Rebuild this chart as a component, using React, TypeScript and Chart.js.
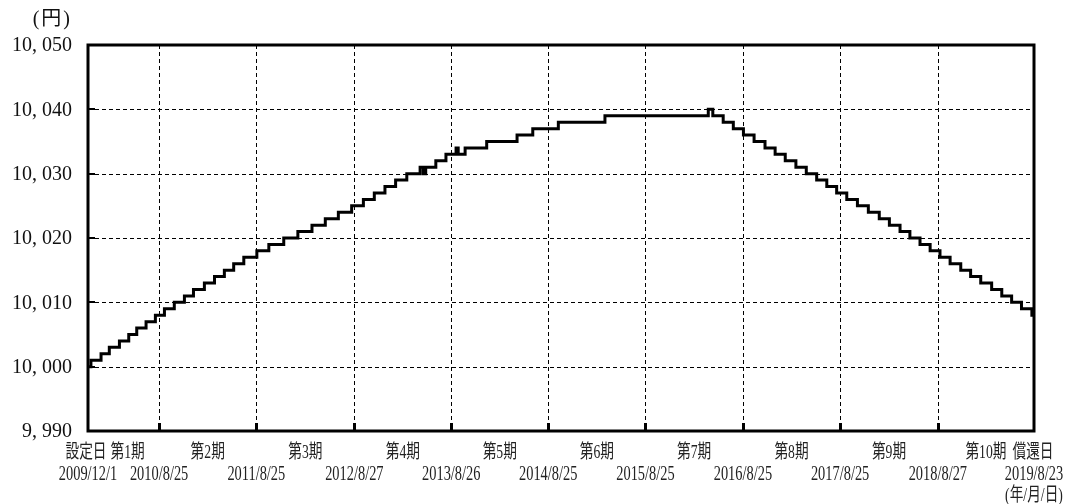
import React, { useEffect, useRef } from "react";
import { Chart, registerables } from "chart.js";

Chart.register(...registerables);

// NAV step series: date from which the value applies, and the value (円)
const navDates = [
  "2009/12/1", "2009/12/12", "2010/1/19", "2010/2/19", "2010/3/29", "2010/5/3",
  "2010/6/2", "2010/7/7", "2010/8/11", "2010/9/14", "2010/10/21", "2010/11/28",
  "2011/1/1", "2011/2/11", "2011/3/21", "2011/4/27", "2011/6/1", "2011/7/9",
  "2011/8/27", "2011/10/11", "2011/12/6", "2012/1/28", "2012/3/21", "2012/5/10",
  "2012/6/28", "2012/8/17", "2012/9/30", "2012/11/10", "2012/12/20", "2013/1/29",
  "2013/3/12", "2013/5/1", "2013/5/13", "2013/5/22", "2013/6/29", "2013/8/6",
  "2013/9/13", "2013/9/21", "2013/10/17", "2014/1/6", "2014/4/30", "2014/6/28",
  "2014/10/2", "2015/3/26", "2016/4/17", "2016/5/4", "2016/6/12", "2016/7/20",
  "2016/8/27", "2016/10/6", "2016/11/16", "2016/12/24", "2017/1/31", "2017/3/12",
  "2017/4/20", "2017/5/29", "2017/7/6", "2017/8/12", "2017/9/19", "2017/10/29",
  "2017/12/9", "2018/1/19", "2018/2/26", "2018/4/7", "2018/5/14", "2018/6/21",
  "2018/7/29", "2018/9/4", "2018/10/12", "2018/11/21", "2018/12/28", "2019/2/4",
  "2019/3/17", "2019/4/24", "2019/5/31", "2019/7/7", "2019/8/15", "2019/8/23",
];
const navValues = [
  10000, 10001, 10002, 10003, 10004, 10005,
  10006, 10007, 10008, 10009, 10010, 10011,
  10012, 10013, 10014, 10015, 10016, 10017,
  10018, 10019, 10020, 10021, 10022, 10023,
  10024, 10025, 10026, 10027, 10028, 10029,
  10030, 10031, 10030, 10031, 10032, 10033,
  10034, 10033, 10034, 10035, 10036, 10037,
  10038, 10039, 10040, 10039, 10038, 10037,
  10036, 10035, 10034, 10033, 10032, 10031,
  10030, 10029, 10028, 10027, 10026, 10025,
  10024, 10023, 10022, 10021, 10020, 10019,
  10018, 10017, 10016, 10015, 10014, 10013,
  10012, 10011, 10010, 10009, 10008, 10008,
];

// period boundary dates (設定日, 決算日..., 償還日)
const periodDates = [
  "2009/12/1", "2010/8/25", "2011/8/25", "2012/8/27", "2013/8/26", "2014/8/25",
  "2015/8/25", "2016/8/25", "2017/8/25", "2018/8/27", "2019/8/23",
];
const periodLabels = [
  "第1期", "第2期", "第3期", "第4期", "第5期",
  "第6期", "第7期", "第8期", "第9期", "第10期",
];
const startLabel = "設定日";
const endLabel = "償還日";
const dateUnitLabel = "(年/月/日)";

const yTicks = [9990, 10000, 10010, 10020, 10030, 10040, 10050];
const yTickLabels = ["9, 990", "10, 000", "10, 010", "10, 020", "10, 030", "10, 040", "10, 050"];
const yUnitLabel = "(円)";

const DAY0 = navDates[0];
function dayOf(s: string): number {
  const [yy, mm, dd] = s.split("/").map(Number);
  const [y0, m0, d0] = DAY0.split("/").map(Number);
  return Math.round((Date.UTC(yy, mm - 1, dd) - Date.UTC(y0, m0 - 1, d0)) / 86400000);
}

const SERIF = '"Liberation Serif", "Noto Sans CJK JP", serif';

function drawNarrow(ctx: CanvasRenderingContext2D, text: string, cx: number, cy: number, sx: number) {
  ctx.save();
  ctx.translate(cx, cy);
  ctx.scale(sx, 1);
  ctx.fillText(text, 0, 0);
  ctx.restore();
}

const framePlugin = {
  id: "framePlugin",
  beforeDatasetsDraw(chart: any) {
    const { ctx, chartArea: a, scales } = chart;
    const x = scales.x;
    const y = scales.y;
    ctx.save();
    ctx.strokeStyle = "#000";
    ctx.lineWidth = 1;
    ctx.setLineDash([4, 3]);
    for (const v of yTicks.slice(1, -1)) {
      const py = Math.round(y.getPixelForValue(v)) + 0.5;
      ctx.beginPath();
      ctx.moveTo(a.left, py);
      ctx.lineTo(a.right, py);
      ctx.stroke();
    }
    for (const d of periodDates.slice(1, -1)) {
      const px = Math.round(x.getPixelForValue(dayOf(d))) + 0.5;
      ctx.beginPath();
      ctx.moveTo(px, a.top);
      ctx.lineTo(px, a.bottom);
      ctx.stroke();
    }
    ctx.restore();
  },
  afterDatasetsDraw(chart: any) {
    const { ctx, chartArea: a, scales } = chart;
    const x = scales.x;
    const y = scales.y;
    ctx.save();
    ctx.setLineDash([]);
    ctx.strokeStyle = "#000";
    ctx.lineWidth = 3;
    ctx.strokeRect(a.left, a.top, a.right - a.left, a.bottom - a.top);

    // inner ticks
    ctx.lineWidth = 2;
    for (const v of yTicks.slice(1, -1)) {
      const py = Math.round(y.getPixelForValue(v));
      ctx.beginPath();
      ctx.moveTo(a.left, py);
      ctx.lineTo(a.left + 7, py);
      ctx.stroke();
    }
    ctx.lineWidth = 3;
    for (const d of periodDates.slice(1, -1)) {
      const px = Math.round(x.getPixelForValue(dayOf(d))) + 0.5;
      ctx.beginPath();
      ctx.moveTo(px, a.bottom);
      ctx.lineTo(px, a.bottom - 8);
      ctx.stroke();
    }

    // y labels
    ctx.fillStyle = "#111";
    ctx.font = `20px ${SERIF}`;
    ctx.textAlign = "right";
    ctx.textBaseline = "middle";
    yTicks.forEach((v, i) => {
      ctx.fillText(yTickLabels[i], 72, y.getPixelForValue(v) + 1);
    });
    (ctx as any).letterSpacing = "2px";
    ctx.fillText(yUnitLabel, 72, 20);
    (ctx as any).letterSpacing = "0px";

    // x labels
    ctx.fillStyle = "#222";
    ctx.textAlign = "center";
    ctx.textBaseline = "middle";
    const sx = 0.72;
    const row1 = a.bottom + 22;
    const row2 = a.bottom + 44;
    const row3 = a.bottom + 65;
    const px0 = x.getPixelForValue(dayOf(periodDates[0]));
    const pxN = x.getPixelForValue(dayOf(periodDates[periodDates.length - 1]));
    ctx.font = `19px ${SERIF}`;
    drawNarrow(ctx, startLabel, px0 - 2, row1, sx);
    drawNarrow(ctx, endLabel, pxN - 1, row1, sx);
    for (let i = 0; i < periodLabels.length; i++) {
      const p1 = x.getPixelForValue(dayOf(periodDates[i]));
      const p2 = x.getPixelForValue(dayOf(periodDates[i + 1]));
      const shift = i === 0 ? 4 : 0;
      drawNarrow(ctx, periodLabels[i], (p1 + p2) / 2 + shift, row1, sx);
    }
    ctx.font = `20px ${SERIF}`;
    periodDates.forEach((d) => {
      drawNarrow(ctx, d, x.getPixelForValue(dayOf(d)), row2, sx);
    });
    ctx.font = `19px ${SERIF}`;
    drawNarrow(ctx, dateUnitLabel, pxN, row3, sx);
    ctx.restore();
  },
};

export default function App() {
  const canvasRef = useRef<HTMLCanvasElement | null>(null);

  useEffect(() => {
    if (!canvasRef.current) return;
    const points = navDates.map((d, i) => ({ x: dayOf(d), y: navValues[i] }));
    const chart = new Chart(canvasRef.current, {
      type: "line",
      data: {
        datasets: [
          {
            data: points,
            borderColor: "#000",
            borderWidth: 3,
            pointRadius: 0,
            stepped: "before",
            fill: false,
          },
        ],
      },
      options: {
        animation: false,
        responsive: true,
        maintainAspectRatio: false,
        layout: { padding: { left: 88, right: 32, top: 45, bottom: 73 } },
        plugins: { legend: { display: false }, tooltip: { enabled: false } },
        scales: {
          x: {
            type: "linear",
            min: dayOf(periodDates[0]),
            max: dayOf(periodDates[periodDates.length - 1]),
            ticks: { display: false },
            grid: { display: false, drawTicks: false },
            border: { display: false },
          },
          y: {
            type: "linear",
            min: yTicks[0],
            max: yTicks[yTicks.length - 1],
            ticks: { display: false },
            grid: { display: false, drawTicks: false },
            border: { display: false },
          },
        },
      },
      plugins: [framePlugin],
    });
    return () => chart.destroy();
  }, []);

  return (
    <div style={{ position: "absolute", left: 0, top: 0, width: 1066, height: 504, background: "#fff" }}>
      <canvas ref={canvasRef} />
    </div>
  );
}
